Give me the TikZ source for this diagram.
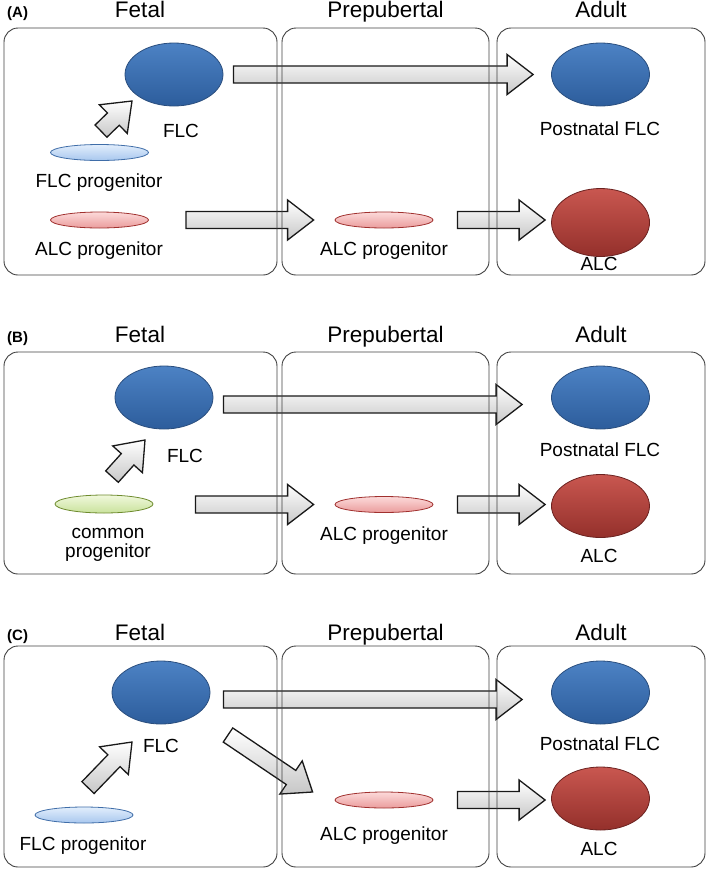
\documentclass[tikz,border=0pt]{standalone}
\usepackage{fontspec}
\setmainfont{Liberation Sans}
\usepackage{xcolor}
\usetikzlibrary{shapes.geometric, calc, positioning}

\definecolor{flctop}{HTML}{4C82C4}
\definecolor{flcbot}{HTML}{2D5D9C}
\definecolor{flcedge}{HTML}{2A4E7E}
\definecolor{alctop}{HTML}{C95750}
\definecolor{alcbot}{HTML}{94302B}
\definecolor{alcedge}{HTML}{6B2220}
\definecolor{fptop}{HTML}{E2EEFC}
\definecolor{fpbot}{HTML}{A8C7EE}
\definecolor{fpedge}{HTML}{3F6DA8}
\definecolor{aptop}{HTML}{FCDADA}
\definecolor{apbot}{HTML}{EA9C9C}
\definecolor{apedge}{HTML}{A0302E}
\definecolor{cptop}{HTML}{F0F8DC}
\definecolor{cpbot}{HTML}{C9E29C}
\definecolor{cpedge}{HTML}{6E8B2E}

\tikzset{
  cell/.style={ellipse, inner sep=0pt, minimum width=98pt, minimum height=63pt, line width=0.8pt},
  flc/.style={cell, draw=flcedge, top color=flctop, bottom color=flcbot},
  alc/.style={cell, draw=alcedge, top color=alctop, bottom color=alcbot},
  prog/.style={ellipse, inner sep=0pt, minimum width=98pt, minimum height=16pt, line width=0.8pt},
  flcprog/.style={prog, draw=fpedge, top color=fptop, bottom color=fpbot},
  alcprog/.style={prog, draw=apedge, top color=aptop, bottom color=apbot},
  comprog/.style={prog, draw=cpedge, top color=cptop, bottom color=cpbot},
  fatarrow/.style={draw=black!90, line width=1.3pt, line join=miter, top color=white, bottom color=black!22},
  stage/.style={draw=black!75, rounded corners=14pt, line width=0.9pt},
  lab/.style={font=\fontsize{19}{17}\selectfont, anchor=base, inner sep=0pt},
  stagelab/.style={font=\fontsize{22.5}{25}\selectfont, anchor=base, inner sep=0pt},
  panel/.style={font=\bfseries\fontsize{15}{17}\selectfont, anchor=base west, inner sep=0pt},
}

% block arrow from #1 to #2
\newcommand{\fatarrow}[2]{%
  \coordinate (fa-s) at #1;
  \coordinate (fa-e) at #2;
  \coordinate (fa-m) at ($(fa-e)!26pt!(fa-s)$);
  \draw[fatarrow] ($(fa-s)!8.5pt!90:(fa-e)$) -- ($(fa-m)!8.5pt!90:(fa-e)$)
    -- ($(fa-m)!20pt!90:(fa-e)$) -- (fa-e) -- ($(fa-m)!20pt!-90:(fa-e)$)
    -- ($(fa-m)!8.5pt!-90:(fa-e)$) -- ($(fa-s)!8.5pt!-90:(fa-e)$) -- cycle;
}

\begin{document}
\begin{tikzpicture}[x=1pt, y=-1pt]
\useasboundingbox (0,0) rectangle (709,873);

% Panel headings
\foreach \tag/\yb in {A/17, B/342, C/640} {
    \node[panel] (tag\tag) at (7,\yb) {(\tag)};
    \node[stagelab] (fet\tag) at (140,\yb) {Fetal};
    \node[stagelab] (pre\tag) at (385.5,\yb) {Prepubertal};
    \node[stagelab] (adu\tag) at (601,\yb) {Adult};
}

% Panel A
\node[flc] (flcA) at (174,74.5) {};
\node[lab] (flcAlab) at (181,137) {FLC};
\node[flcprog] (flcpA) at (99.5,152.5) {};
\node[lab] (flcpAlab) at (99,187) {FLC progenitor};
\node[alcprog] (alcpA) at (99.5,220) {};
\node[lab] (alcpAlab) at (99,255) {ALC progenitor};
\node[alcprog] (alcpA2) at (384,220) {};
\node[lab] (alcpA2lab) at (384,255) {ALC progenitor};
\node[flc] (pflcA) at (600.5,74.5) {};
\node[lab] (pflcAlab) at (600,135) {Postnatal FLC};
\node[alc, minimum height=68pt] (alcA) at (600.5,222.5) {};
\node[lab] (alcAlab) at (599,270) {ALC};

\fatarrow{($(flcA.east)+(10,0)$)}{($(pflcA.west)+(-18,0)$)}
\fatarrow{($(flcpA.north)+(1.5,-13)$)}{($(flcA)+(-42,26.5)$)}
\fatarrow{($(alcpA.east)+(37,0)$)}{($(alcpA2.west)+(-21,0)$)}
\fatarrow{($(alcpA2.east)+(24,0)$)}{($(alcA.west)+(-6,-2.5)$)}

% Panel B
\node[flc] (flcB) at (164,397.5) {};
\node[lab] (flcBlab) at (185,462) {FLC};
\node[comprog, minimum height=18pt] (compB) at (104,504) {};
\node[lab, align=center, anchor=center, font=\fontsize{19}{19}\selectfont] (compBlab) at (108,545) {common\\progenitor};
\node[alcprog] (alcpB2) at (384,504.5) {};
\node[lab] (alcpB2lab) at (384,540) {ALC progenitor};
\node[flc] (pflcB) at (600.5,397.5) {};
\node[lab] (pflcBlab) at (600,456) {Postnatal FLC};
\node[alc] (alcB) at (600.5,506) {};
\node[lab] (alcBlab) at (599,562) {ALC};

\fatarrow{($(flcB.east)+(10,7)$)}{($(pflcB.west)+(-29,7)$)}
\fatarrow{($(compB.north)+(8,-18)$)}{($(flcB)+(-19,42.5)$)}
\fatarrow{($(compB.east)+(42,0.5)$)}{($(alcpB2.west)+(-21,0)$)}
\fatarrow{($(alcpB2.east)+(24,0)$)}{($(alcB.west)+(-6,-1.5)$)}

% Panel C
\node[flc] (flcC) at (161,692.5) {};
\node[lab] (flcClab) at (161,752) {FLC};
\node[flcprog] (flcpC) at (84,815) {};
\node[lab] (flcpClab) at (83,850) {FLC progenitor};
\node[alcprog] (alcpC2) at (384,800) {};
\node[lab] (alcpC2lab) at (384,840) {ALC progenitor};
\node[flc] (pflcC) at (600.5,692.5) {};
\node[lab] (pflcClab) at (600,750) {Postnatal FLC};
\node[alc] (alcC) at (600.5,798.5) {};
\node[lab] (alcClab) at (599,855) {ALC};

\fatarrow{($(flcC.east)+(13,7)$)}{($(pflcC.west)+(-29,7)$)}
\fatarrow{($(flcpC.north)+(4,-19)$)}{($(flcC)+(-29,49.5)$)}
\fatarrow{($(flcC)+(67,42.5)$)}{($(alcpC2.west)+(-22,-8)$)}
\fatarrow{($(alcpC2.east)+(24,0)$)}{($(alcC.west)+(-6,1.5)$)}

% Stage boxes (on top of the arrows)
\foreach \ya/\yb in {28/275, 352/574, 646/867} {
    \draw[stage] (4,\ya) rectangle (277,\yb);
    \draw[stage] (282,\ya) rectangle (489,\yb);
    \draw[stage] (497,\ya) rectangle (705,\yb);
}
\end{tikzpicture}
\end{document}
